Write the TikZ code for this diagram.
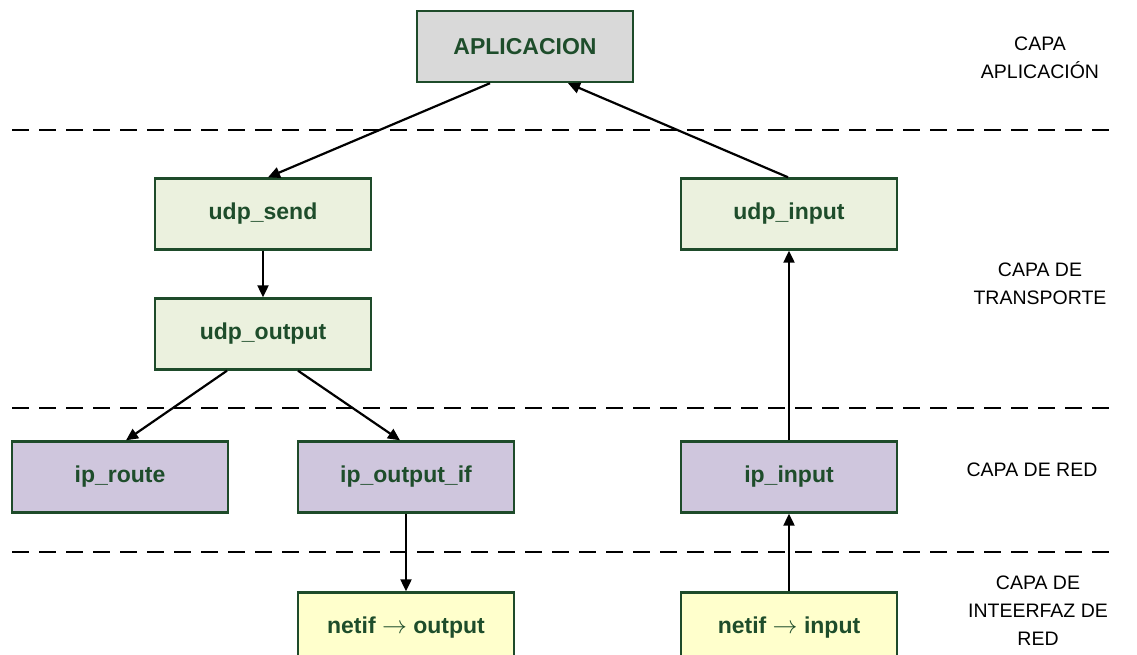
\documentclass[tikz,border=0pt]{standalone}
\usepackage{fontspec}
\setmainfont{Liberation Sans}
\usetikzlibrary{arrows.meta}
\definecolor{boxedge}{HTML}{1E4B2A}
\definecolor{boxtext}{HTML}{1E4D2B}
\definecolor{appfill}{HTML}{D9D9D9}
\definecolor{transfill}{HTML}{EBF1DE}
\definecolor{netfill}{HTML}{CFC6DD}
\definecolor{iffill}{HTML}{FFFFCC}
\tikzset{
  fnbox/.style={draw=boxedge, line width=2.4pt, minimum width=216pt, minimum height=71pt,
    inner sep=0pt, text=boxtext, font=\fontsize{23}{26}\selectfont\bfseries},
  layerline/.style={line width=2.4pt, dash pattern=on 17pt off 10pt},
  flow/.style={line width=2.2pt, -{Triangle[length=12pt,width=11pt]}},
  layerlabel/.style={align=center, font=\fontsize{19.5}{28}\selectfont}
}
\begin{document}
\begin{tikzpicture}[x=1pt,y=-1pt]
\useasboundingbox (0,0) rectangle (1137,655);
\clip (0,0) rectangle (1137,655);

% layer separators
\draw[layerline] (12,130) -- (1115,130);
\draw[layerline] (12,408) -- (1115,408);
\draw[layerline] (12,552) -- (1115,552);

% function boxes
\node[fnbox, fill=appfill]   (ap)     at (525,46.5) {APLICACION};
\node[fnbox, fill=transfill] (send)   at (263,214)  {udp\_send};
\node[fnbox, fill=transfill] (out)    at (263,334)  {udp\_output};
\node[fnbox, fill=transfill] (uin)    at (789,214)  {udp\_input};
\node[fnbox, fill=netfill]   (route)  at (120,477)  {ip\_route};
\node[fnbox, fill=netfill]   (outif)  at (406,477)  {ip\_output\_if};
\node[fnbox, fill=netfill]   (ipin)   at (789,477)  {ip\_input};
\node[fnbox, fill=iffill]    (netout) at (406,628)  {netif $\rightarrow$ output};
\node[fnbox, fill=iffill]    (netin)  at (789,628)  {netif $\rightarrow$ input};

% calls
\draw[flow] ([xshift=-35pt]ap.south) -- ([xshift=5pt]send.north);
\draw[flow] ([xshift=-1pt]uin.north) -- ([xshift=43pt]ap.south);
\draw[flow] (send.south) -- (out.north);
\draw[flow] ([xshift=-36pt]out.south) -- ([xshift=6pt]route.north);
\draw[flow] ([xshift=35pt]out.south) -- ([xshift=-6pt]outif.north);
\draw[flow] (outif.south) -- (netout.north);
\draw[flow] (netin.north) -- (ipin.south);
\draw[flow] (ipin.north) -- (uin.south);

% layer names
\node[layerlabel] (lapp)   at (1040,58)  {CAPA\\APLICACIÓN};
\node[layerlabel] (ltrans) at (1040,284) {CAPA DE\\TRANSPORTE};
\node[layerlabel] (lred)   at (1032,470) {CAPA DE RED};
\node[layerlabel] (lif)    at (1038,611) {CAPA DE\\INTEERFAZ DE\\RED};
\end{tikzpicture}
\end{document}
